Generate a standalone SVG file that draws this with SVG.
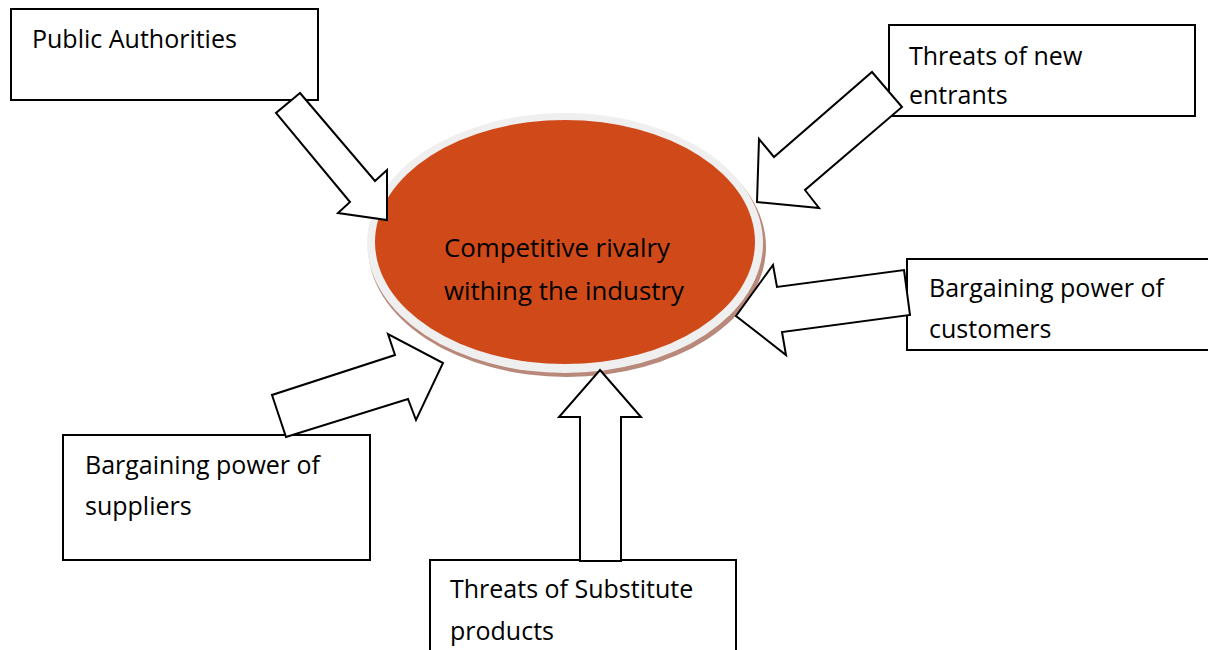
<svg xmlns="http://www.w3.org/2000/svg" width="1208" height="650" viewBox="0 0 1208 650">
<style>
.box{fill:#fff;stroke:#000;stroke-width:2}
.arr{fill:#fff;stroke:#000;stroke-width:2;stroke-linejoin:miter}
.t{font-family:"Open Sans","Liberation Sans",sans-serif;font-size:25px;fill:#000}
</style>
<rect width="1208" height="650" fill="#fff"/>
<g id="center">
<ellipse cx="567" cy="247" rx="199" ry="130" fill="#b8887a"/>
<ellipse cx="565" cy="243" rx="198" ry="130" fill="#efefef"/>
<ellipse cx="565" cy="242" rx="190" ry="122" fill="#d04a19"/>
<text class="t" x="444" y="257" textLength="226" lengthAdjust="spacingAndGlyphs">Competitive rivalry</text>
<text class="t" x="444" y="300" textLength="240" lengthAdjust="spacingAndGlyphs">withing the industry</text>
</g>
<g id="public-authorities">
<rect class="box" x="11" y="9" width="307" height="91"/>
<text class="t" x="32" y="48">Public Authorities</text>
</g>
<g id="new-entrants">
<rect class="box" x="889" y="25" width="306" height="91"/>
<text class="t" x="909" y="65">Threats of new</text>
<text class="t" x="909" y="104">entrants</text>
</g>
<g id="customers">
<rect class="box" x="907" y="259" width="303" height="91"/>
<text class="t" x="929" y="297">Bargaining power of</text>
<text class="t" x="929" y="338">customers</text>
</g>
<g id="suppliers">
<rect class="box" x="63" y="435" width="307" height="125"/>
<text class="t" x="85" y="474">Bargaining power of</text>
<text class="t" x="85" y="515">suppliers</text>
</g>
<g id="substitutes">
<rect class="box" x="430" y="560" width="306" height="100"/>
<text class="t" x="450" y="598">Threats of Substitute</text>
<text class="t" x="450" y="640">products</text>
</g>
<g id="connectors">
<polygon class="arr" points="300,93 276,113 350,202 338,213 387,220 387,170 375,181"/>
<polygon class="arr" points="872,72 902,107 805,190 819,208 757,202 759,139 774,157"/>
<polygon class="arr" points="904,270 910,315 782,332 786,355 736,316 773,265 777,287"/>
<polygon class="arr" points="272,395 286,437 408,399 416,420 443,363 388,334 395,355"/>
<polygon class="arr" points="600,370 641,417 621,417 621,561 580,561 580,417 559,417"/>
</g>
</svg>
